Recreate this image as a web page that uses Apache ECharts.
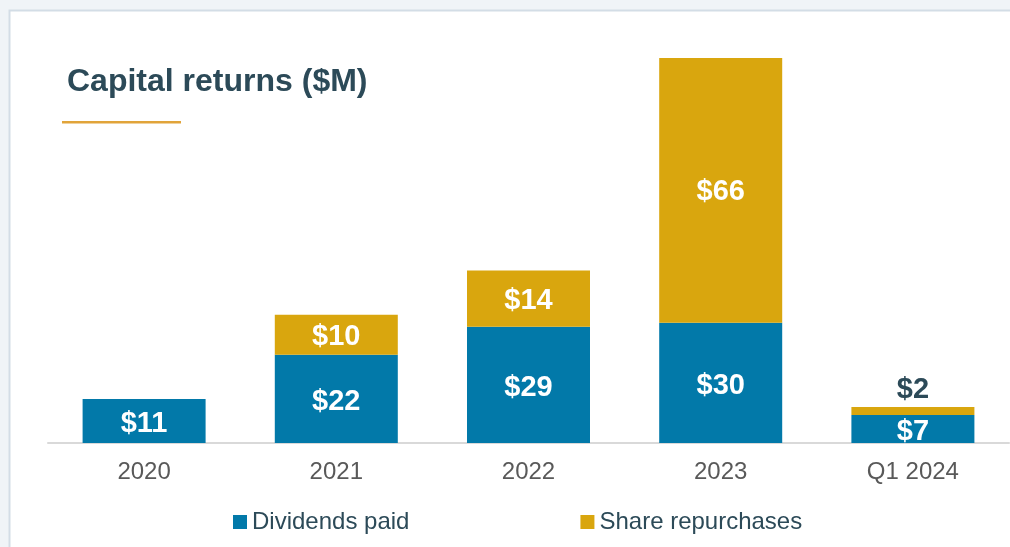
<!DOCTYPE html>
<html lang="en">
<head>
    <meta charset="UTF-8">
    <title>Capital returns</title>
    <script src="https://cdn.jsdelivr.net/npm/echarts@6/dist/echarts.min.js"></script>
    <style>
        html, body { margin: 0; padding: 0; background: #f0f4f7; }
        #main { width: 1010px; height: 547px; }
    </style>
</head>
<body>
<div id="main"></div>
<script>
    // 数据
    var categories = ['2020', '2021', '2022', '2023', 'Q1 2024'];
    var dividends = [11, 22, 29, 30, 7];
    var repurchases = [null, 10, 14, 66, 2];

    var blue = '#0279a9';
    var gold = '#d9a60e';
    var dark = '#2c4a58';

    var myChart = echarts.init(document.getElementById('main'));

    // 太小的块把数字放到上面
    var repData = repurchases.map(function (v) {
        if (v !== null && v < 5) {
            return { value: v, label: { position: 'top', color: dark, distance: 2, offset: [0, 0] } };
        }
        return v;
    });

    var option = {
        backgroundColor: '#f0f4f7',
        animation: false,
        textStyle: { fontFamily: 'Liberation Sans, Arial, sans-serif' },
        graphic: [
            {
                type: 'rect', z: -10,
                shape: { x: 9.5, y: 10.5, width: 1010, height: 547 },
                style: { fill: '#ffffff', stroke: '#d3dde6', lineWidth: 2 }
            },
            {
                type: 'text', left: 67, top: 66,
                style: { text: 'Capital returns ($M)', fill: dark, font: 'bold 32px Liberation Sans, Arial, sans-serif' }
            },
            {
                type: 'rect',
                shape: { x: 62, y: 121, width: 119, height: 2.5 },
                style: { fill: '#e1a43a' }
            }
        ],
        legend: {
            left: 228, top: 505,
            itemGap: 171,
            itemWidth: 14, itemHeight: 14,
            icon: 'rect',
            textStyle: { fontSize: 24, color: dark },
            data: ['Dividends paid', 'Share repurchases']
        },
        grid: { left: 48, right: 1, top: 58, bottom: 104 },
        xAxis: {
            type: 'category',
            data: categories,
            axisLine: { lineStyle: { color: '#d9d9d9', width: 2 } },
            axisTick: { show: false },
            axisLabel: { fontSize: 24, color: '#595959', margin: 17 }
        },
        yAxis: {
            type: 'value', min: 0, max: 96,
            show: false, splitLine: { show: false }
        },
        series: [
            {
                name: 'Dividends paid', type: 'bar', stack: 'total',
                data: dividends, barWidth: 123,
                itemStyle: { color: blue },
                label: {
                    show: true, position: 'inside', color: '#ffffff', offset: [0, 3],
                    fontSize: 29, fontWeight: 'bold', formatter: '${c}'
                }
            },
            {
                name: 'Share repurchases', type: 'bar', stack: 'total',
                data: repData, barWidth: 123,
                itemStyle: { color: gold },
                label: {
                    show: true, position: 'inside', color: '#ffffff', offset: [0, 2],
                    fontSize: 29, fontWeight: 'bold', formatter: '${c}'
                }
            }
        ]
    };
    myChart.setOption(option);
</script>
</body>
</html>
